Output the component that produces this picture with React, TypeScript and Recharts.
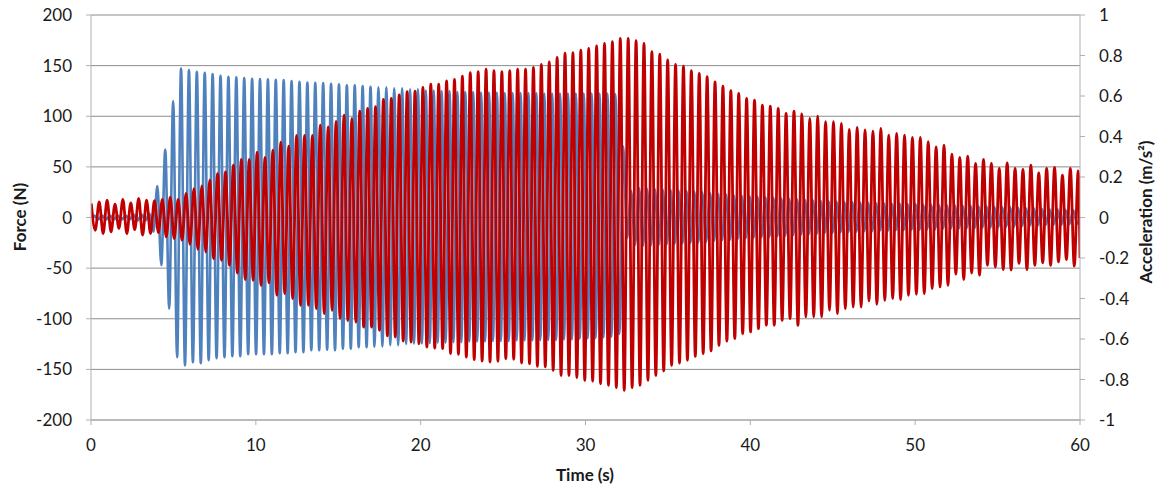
import React from "react";
import { LineChart, Line, XAxis, YAxis, CartesianGrid } from "recharts";

// ---- values ----
// Time axis ticks (s)
const timeTicks = [0, 10, 20, 30, 40, 50, 60];
const forceTicks = [-200, -150, -100, -50, 0, 50, 100, 150, 200];
const accelTicks = [-1, -0.8, -0.6, -0.4, -0.2, 0, 0.2, 0.4, 0.6, 0.8, 1];

// Acceleration (red, m/s²): oscillation period and time of first crest
const redPeriod = 0.479;
const redFirstPeak = 0.018;
// successive crest values (m/s²)
const redPeaks = [
  0.069, 0.077, 0.086, 0.066, 0.089, 0.072, 0.094, 0.086, 0.083, 0.089,
  0.1, 0.089, 0.119, 0.143, 0.156, 0.184, 0.217, 0.225, 0.258, 0.287,
  0.287, 0.323, 0.297, 0.333, 0.372, 0.352, 0.405, 0.405, 0.405, 0.456,
  0.448, 0.475, 0.506, 0.489, 0.525, 0.539, 0.547, 0.583, 0.588, 0.605,
  0.621, 0.624, 0.643, 0.659, 0.659, 0.675, 0.682, 0.698, 0.715, 0.72,
  0.732, 0.725, 0.72, 0.725, 0.733, 0.732, 0.741, 0.756, 0.769, 0.791,
  0.811, 0.814, 0.826, 0.835, 0.847, 0.86, 0.868, 0.885, 0.885, 0.873,
  0.86, 0.819, 0.807, 0.778, 0.756, 0.748, 0.725, 0.712, 0.695, 0.67,
  0.649, 0.626, 0.613, 0.588, 0.58, 0.555, 0.55, 0.539, 0.514, 0.525,
  0.511, 0.489, 0.501, 0.473, 0.473, 0.465, 0.435, 0.445, 0.432, 0.427,
  0.44, 0.407, 0.415, 0.407, 0.395, 0.395, 0.374, 0.349, 0.357, 0.313,
  0.297, 0.303, 0.267, 0.287, 0.267, 0.242, 0.27, 0.242, 0.237, 0.259,
  0.22, 0.242, 0.247, 0.209, 0.242, 0.23,
];
// successive trough values (m/s²), each following the crest of same index
const redTroughs = [
  -0.063, -0.079, -0.071, -0.054, -0.079, -0.06, -0.087, -0.079, -0.075, -0.096,
  -0.104, -0.112, -0.132, -0.157, -0.17, -0.203, -0.211, -0.236, -0.274, -0.307,
  -0.31, -0.335, -0.323, -0.384, -0.376, -0.4, -0.434, -0.434, -0.45, -0.475,
  -0.458, -0.499, -0.508, -0.516, -0.541, -0.541, -0.557, -0.585, -0.59, -0.61,
  -0.615, -0.623, -0.64, -0.645, -0.648, -0.672, -0.676, -0.689, -0.702, -0.709,
  -0.714, -0.71, -0.697, -0.7, -0.719, -0.722, -0.735, -0.738, -0.755, -0.78,
  -0.78, -0.79, -0.804, -0.808, -0.821, -0.829, -0.84, -0.854, -0.84, -0.829,
  -0.804, -0.78, -0.758, -0.73, -0.719, -0.705, -0.686, -0.672, -0.659, -0.631,
  -0.61, -0.598, -0.573, -0.565, -0.549, -0.532, -0.532, -0.508, -0.499, -0.532,
  -0.491, -0.491, -0.491, -0.458, -0.475, -0.45, -0.442, -0.442, -0.412, -0.429,
  -0.409, -0.4, -0.405, -0.384, -0.379, -0.376, -0.351, -0.343, -0.335, -0.28,
  -0.306, -0.274, -0.285, -0.236, -0.244, -0.257, -0.26, -0.227, -0.257, -0.236,
  -0.224, -0.236, -0.219, -0.208, -0.24,
];
const redEndValue = -0.2;

// Force (blue, N): period and time of first crest
const bluePeriod = 0.479;
const blueFirstPeak = 0.194;
const bluePeaks = [
  2, 2, 2, 2, 2, 3, 3, 4,
  31, 67, 115, 147, 145.6, 144, 143, 141.6, 140, 139,
  138.4, 137.7, 137, 136.7, 136.4, 136, 135.7, 134.7, 134, 133.4,
  133, 132.7, 132, 131.5, 130.5, 130.5, 129.8, 129, 128.5, 128.5,
  127.5, 127.5, 126.5, 126.5, 125.5, 125.5, 125, 125, 124, 124,
  124, 123.5, 123.5, 123.5, 123, 123, 123, 123, 123, 122.5,
  122.5, 122.5, 122.5, 122.5, 122.5, 122.5, 122.5, 122.5, 122, 70,
  26, 29, 28.5, 28, 27.5, 27, 26.5, 26, 25.5, 25,
  24, 23.5, 23, 22, 21.5, 21, 20.5, 20, 19.5, 19,
  18.5, 18, 17.5, 17, 16.5, 16, 15.5, 15, 15, 14.5,
  14.5, 14, 14, 13.5, 13.5, 13, 13, 12.5, 12.5, 12,
  12, 12, 11.5, 11.5, 11, 11, 10.5, 10, 10, 9.5,
  9, 9, 8.5, 8, 8, 7.5, 7,
];
const blueTroughs = [
  -2, -2, -2, -2, -2, -3, -3, -14,
  -47, -90, -138, -146, -143, -144, -141, -139, -138, -137,
  -137, -135, -135, -135, -135, -134, -134, -133, -133, -131,
  -131, -130.5, -131, -129.5, -129.5, -128, -128, -127.5, -127.5, -126,
  -126, -125, -124.7, -124.5, -124, -123.6, -123.6, -123, -123, -122.5,
  -122.5, -122.5, -122, -122, -122, -121.5, -121.5, -121.5, -121, -121,
  -121, -120.5, -120.5, -119.6, -119.5, -119, -118.5, -118, -115, -20,
  -27, -28, -27.5, -27, -26.5, -26, -25.5, -25, -24.5, -24,
  -23, -22.5, -22, -21, -20.5, -20, -19.5, -19, -18.5, -18,
  -17.5, -17, -16.5, -16, -15.5, -15, -14.5, -14, -14, -13.5,
  -13.5, -13, -13, -12.5, -12.5, -12, -12, -11.5, -11.5, -11,
  -11, -11, -10.5, -10.5, -10, -10, -9.5, -9, -9, -8.5,
  -8, -8, -7.5, -7, -7, -6.5, -6,
];
const blueStartValue = 0;
const blueEndValue = -2;

// ---- build the tables the library needs ----
type Pt = { t: number; v: number };
function buildSeries(first: number, period: number, peaks: number[], troughs: number[]): Pt[] {
  const out: Pt[] = [];
  peaks.forEach((p, i) => {
    out.push({ t: first + i * period, v: p });
    if (i < troughs.length) out.push({ t: first + (i + 0.5) * period, v: troughs[i] });
  });
  return out;
}

const redData: Pt[] = [...buildSeries(redFirstPeak, redPeriod, redPeaks, redTroughs), { t: 60, v: redEndValue }];
const blueData: Pt[] = [
  { t: 0, v: blueStartValue },
  ...buildSeries(blueFirstPeak, bluePeriod, bluePeaks, blueTroughs),
  { t: 60, v: blueEndValue },
];

const FONT = "Lato, 'Open Sans', sans-serif";
const TEXT = "#1a1a1a";
const AXIS = "#b0b0b0";
const GRID = "#8c8c8c";

export default function App() {
  return (
    <div style={{ position: "absolute", left: 0, top: 0, width: 1166, height: 488, background: "#fff" }}>
      <LineChart width={1166} height={488} margin={{ top: 15, right: 0, bottom: 0, left: 0 }}>
        <CartesianGrid vertical={false} stroke={GRID} strokeWidth={1} yAxisId="left" />
        <XAxis
          dataKey="t"
          type="number"
          domain={[0, 60]}
          ticks={timeTicks}
          allowDataOverflow
          height={68}
          stroke={AXIS}
          tickSize={5}
          tickMargin={14}
          tick={{ fill: TEXT, fontSize: 17, fontFamily: FONT }}
          label={{
            content: () => (
              <text x={585} y={481} textAnchor="middle" fill={TEXT} fontSize={17} fontWeight="bold" fontFamily={FONT}>
                Time (s)
              </text>
            ),
          }}
        />
        <YAxis
          yAxisId="left"
          orientation="left"
          domain={[-200, 200]}
          ticks={forceTicks}
          allowDataOverflow
          width={91}
          stroke={AXIS}
          tickSize={5}
          tickMargin={14}
          tick={{ fill: TEXT, fontSize: 17, fontFamily: FONT }}
          label={{
            content: () => (
              <text
                x={26}
                y={217}
                transform="rotate(-90 26 217)"
                textAnchor="middle"
                fill={TEXT}
                fontSize={17}
                fontWeight="bold"
                fontFamily={FONT}
              >
                Force (N)
              </text>
            ),
          }}
        />
        <YAxis
          yAxisId="right"
          orientation="right"
          domain={[-1, 1]}
          ticks={accelTicks}
          allowDataOverflow
          width={86}
          stroke={AXIS}
          tickSize={5}
          tickMargin={14}
          tickFormatter={(v: number) => String(Math.round(v * 10) / 10)}
          tick={{ fill: TEXT, fontSize: 17, fontFamily: FONT }}
          label={{
            content: () => (
              <text
                x={1152}
                y={212}
                transform="rotate(-90 1152 212)"
                textAnchor="middle"
                fill={TEXT}
                fontSize={17}
                fontWeight="bold"
                fontFamily={FONT}
              >
                Acceleration (m/s²)
              </text>
            ),
          }}
        />
        <Line
          yAxisId="left"
          data={blueData}
          dataKey="v"
          type="monotone"
          stroke="#4F81BD"
          strokeWidth={2.6}
          dot={false}
          activeDot={false}
          isAnimationActive={false}
        />
        <Line
          yAxisId="right"
          data={redData}
          dataKey="v"
          type="monotone"
          stroke="#C00000"
          strokeWidth={2.8}
          dot={false}
          activeDot={false}
          isAnimationActive={false}
        />
      </LineChart>
    </div>
  );
}
